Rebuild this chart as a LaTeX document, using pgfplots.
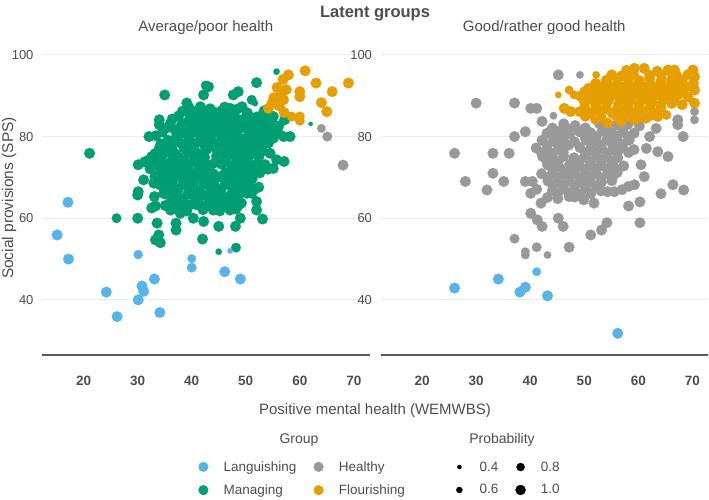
\documentclass[border=0pt]{standalone}
\usepackage{pgfplots}
\pgfplotsset{compat=1.18}
\usepackage{fontspec}
\setmainfont{Liberation Sans}
\definecolor{lang}{HTML}{56B4E9}
\definecolor{mana}{HTML}{009E73}
\definecolor{heal}{HTML}{999999}
\definecolor{flou}{HTML}{E69F00}
\definecolor{txt}{HTML}{4D4D4D}
\definecolor{gridc}{HTML}{EBEBEB}
\definecolor{axc}{HTML}{595959}
\pgfplotsset{
 panel/.style={scale only axis, width=327.5pt, height=314.4pt, anchor=south west,
  xmin=12.3, xmax=72.9, ymin=26.5, ymax=103.5,
  axis line style={draw=none}, tick style={draw=none}, major tick length=0pt,
  xtick={20,30,...,70}, ytick={40,60,80,100},
  ymajorgrids, grid style={gridc, line width=0.9pt},
  /pgf/number format/assume math mode=true,
  xticklabel style={font=\fontsize{13.5}{14}\selectfont\bfseries, text=txt, yshift=-18pt},
  yticklabel style={font=\fontsize{13}{14}\selectfont, text=txt, xshift=-5pt},
  extra description/.code={\draw[axc, line width=2.2pt] (0,0) -- (1,0);},
  legend columns=2,
 },
 dots/.style={forget plot, scatter, only marks, mark=*, scatter/use mapped color={draw=#1, fill=#1, line width=0.1pt},
  visualization depends on={\thisrow{p} \as \pp},
  scatter/@pre marker code/.append style={/tikz/mark size=5.4*\pp}},
}
\begin{document}
\begin{tikzpicture}
\path[use as bounding box] (0pt,0pt) rectangle (709pt,499pt);
\begin{axis}[panel, at={(42pt,144pt)},
 legend image code/.code={\path (0pt,0pt) (26pt,0pt); \draw[#1] plot coordinates {(8pt,0pt)};},
 legend style={at={(0.4672,-0.3928)}, anchor=west, draw=none, fill=none, inner sep=0pt,
  font=\fontsize{13.5}{14}\selectfont, text=txt, row sep=8pt,
  /tikz/every even column/.append style={column sep=12pt}},
 legend cell align=left]
\addplot[dots=mana] table {
x y p
21.1 75.9 1
26.1 60.0 0.9
30.0 60.0 1
35.0 90.2 1
43.1 92.2 1
42.2 90.2 1
42.6 92.5 0.9
34.0 84.1 1
34.0 82.9 1
32.1 80.0 1
34.0 77.1 1
30.1 73.1 1
32.1 74.3 1
31.1 69.4 1
33.0 68.6 1
30.1 66.5 1
30.0 65.7 1
33.1 65.3 1
32.6 62.5 1
33.3 63.0 1
33.6 58.8 1
33.9 55.9 1
33.3 54.7 1
34.2 54.0 1
37.1 57.1 1
37.1 58.8 1
36.1 62.0 1
37.9 61.2 1
40.3 60.0 1
42.2 59.2 1
42.0 54.9 1
45.0 51.8 0.6
48.2 52.8 0.9
45.0 58.0 1
48.1 58.0 1
49.0 60.0 1
53.1 59.8 1
52.0 62.0 1
52.0 64.1 1
50.2 66.1 1
47.1 62.0 1
47.1 64.1 1
44.0 63.3 1
44.0 62.0 1
39.7 63.3 1
40.9 63.3 1
42.2 65.7 1
34.8 66.1 1
52.0 93.2 1
48.6 91.0 1
47.7 90.2 1
39.1 88.2 1
51.1 89.0 0.9
51.7 88.2 0.6
42.2 86.1 1
44.0 86.1 1
47.1 86.9 1
47.1 85.3 1
49.3 87.3 1
52.6 84.9 1
54.8 82.4 1
37.3 80.4 1
39.4 82.4 1
53.9 80.0 1
55.1 79.6 1
54.5 75.9 1
55.7 74.3 1
55.7 95.9 0.6
62.0 83.1 0.4
56.0 80.8 1
57.0 80.0 1
58.2 80.0 1
57.2 84.1 1
55.1 84.9 1
57.1 73.9 1
55.1 72.2 1
52.9 71.8 1
51.1 66.1 1
40.7 86.1 1
38.9 83.3 1
37.2 80.0 1
38.3 86.2 1
40.2 85.7 1
45.6 86.4 1
50.3 85.8 1
53.4 86.3 1
36.4 84.3 1
40.8 84.1 1
42.9 83.8 1
44.8 84.4 1
46.3 83.6 1
48.5 84.2 1
50.8 83.7 1
53.6 83.9 1
35.3 82.1 1
36.9 81.7 1
41.2 82.3 1
43.5 81.8 1
45.2 82.4 1
47.6 81.9 1
49.7 82.2 1
51.5 81.6 1
53.1 82.1 1
56.1 82.6 1
33.4 80.2 1
39.5 79.8 1
41.6 80.3 1
43.2 79.7 1
45.5 80.1 1
47.2 80.4 1
49.0 79.6 1
50.8 80.2 1
52.3 79.9 1
34.3 78.2 1
36.2 77.8 1
38.1 78.3 1
40.4 77.9 1
42.3 78.1 1
44.1 77.6 1
46.4 78.2 1
48.1 77.8 1
50.2 78.4 1
52.1 77.7 1
54.2 78.4 1
33.2 75.8 1
35.4 76.2 1
37.1 75.7 1
39.3 76.1 1
41.2 75.9 1
45.3 75.8 1
47.2 76.2 1
49.4 75.6 1
51.3 76.1 1
53.1 76.4 1
31.3 73.8 1
34.2 74.1 1
36.1 73.7 1
38.3 74.2 1
40.2 73.9 1
42.1 74.3 1
44.3 73.6 1
46.1 74.1 1
48.3 73.8 1
50.1 74.2 1
52.4 73.7 1
32.3 72.1 1
35.1 71.8 1
37.2 72.3 1
39.1 71.7 1
41.3 72.2 1
43.2 71.9 1
47.3 71.8 1
49.2 72.1 1
51.1 71.6 1
54.1 72.0 1
33.2 70.2 1
35.3 69.8 1
37.1 70.3 1
39.4 69.7 1
41.2 70.1 1
43.1 69.8 1
45.3 70.2 1
47.2 69.9 1
49.1 70.3 1
51.2 69.7 1
34.1 68.2 1
36.3 67.8 1
38.2 68.1 1
40.1 67.7 1
42.3 68.3 1
44.2 67.8 1
46.1 68.2 1
48.3 67.9 1
50.2 68.1 1
52.4 67.6 1
35.2 65.9 1
37.1 66.2 1
39.2 65.8 1
41.1 66.3 1
43.3 65.7 1
45.2 66.1 1
47.3 65.8 1
49.1 66.2 1
36.2 64.1 1
38.1 63.8 1
41.1 64.2 1
43.2 63.9 1
46.1 64.3 1
49.2 63.7 1
37.3 62.2 1
39.1 61.8 1
42.1 62.1 1
45.2 61.8 1
48.2 62.3 1
44.6 75.2 1
46.2 71.0 1
42.8 76.9 1
48.7 69.0 1
40.6 71.0 1
38.6 73.0 1
50.6 73.0 1
44.2 69.2 1
39.5 87.1 1
41.6 87.3 1
43.4 86.8 1
46.1 87.2 1
48.4 86.7 1
37.6 85.1 1
39.7 84.8 1
41.8 85.3 1
43.8 84.9 1
45.9 85.2 1
48.0 84.7 1
50.1 85.1 1
52.0 84.8 1
54.4 85.2 1
36.0 83.1 1
38.1 82.8 1
40.1 83.2 1
42.0 82.9 1
44.1 83.1 1
46.0 82.8 1
48.1 83.2 1
50.0 82.9 1
52.1 83.1 1
55.1 82.9 1
34.6 81.1 1
38.4 80.9 1
40.5 81.2 1
42.6 80.8 1
44.4 81.1 1
46.6 80.9 1
48.4 81.2 1
50.6 80.8 1
52.6 81.1 1
54.4 80.9 1
35.6 79.1 1
37.5 78.9 1
39.6 79.2 1
41.4 78.8 1
43.6 79.1 1
45.4 78.9 1
47.6 79.2 1
49.4 78.8 1
51.6 79.1 1
53.4 78.9 1
34.6 77.1 1
36.4 76.9 1
38.6 77.2 1
40.4 76.8 1
44.6 76.9 1
46.4 77.2 1
48.6 76.8 1
50.4 77.1 1
52.6 76.9 1
32.6 75.1 1
34.4 74.9 1
36.6 75.2 1
38.4 74.8 1
40.6 75.1 1
42.4 74.9 1
46.6 75.1 1
48.4 74.8 1
50.6 75.2 1
52.4 74.9 1
33.6 73.1 1
35.4 72.9 1
37.6 73.2 1
39.4 72.8 1
41.6 73.1 1
43.4 72.9 1
45.6 73.2 1
47.4 72.8 1
49.6 73.1 1
51.4 72.9 1
53.6 73.1 1
34.1 71.1 1
36.0 70.9 1
38.1 71.2 1
40.0 70.8 1
42.1 71.1 1
44.0 70.9 1
48.1 71.1 1
50.0 70.9 1
52.6 71.1 1
34.6 69.1 1
36.4 68.9 1
38.6 69.2 1
40.4 68.8 1
42.6 69.1 1
46.6 69.1 1
50.6 68.9 1
35.6 67.1 1
37.4 66.9 1
39.6 67.2 1
41.4 66.8 1
43.6 67.1 1
45.4 66.9 1
47.6 67.2 1
49.4 66.8 1
51.6 67.1 1
36.6 65.1 1
38.4 64.9 1
40.6 65.1 1
44.6 64.9 1
46.6 65.1 1
48.4 64.9 1
35.1 63.1 1
37.6 62.9 1
42.6 63.1 1
45.6 63.0 1
48.6 63.1 1
};
\addplot[dots=lang] table {
x y p
17.1 63.9 1
15.1 55.9 1
17.2 50.0 1
24.2 41.9 1
26.2 35.9 1
30.1 51.1 0.85
30.1 40.0 1
30.8 43.4 1
31.1 42.1 1
33.1 45.1 1
34.1 36.9 1
40.0 50.1 0.8
40.0 47.9 0.9
46.1 46.9 1
47.1 52.0 0.5
49.0 45.1 1
};
\addplot[dots=heal] table {
x y p
64.0 82.0 0.8
65.1 80.0 0.9
68.0 73.0 1
};
\addplot[dots=flou] table {
x y p
61.0 96.1 1
57.9 95.1 1
56.9 94.0 1
55.8 92.0 1
56.5 90.5 1
55.2 89.5 1
57.0 89.0 1
54.8 88.0 1
56.2 87.5 1
54.2 86.9 1
63.0 93.1 1
60.0 91.0 1
60.0 89.8 1
66.0 91.0 1
69.0 93.1 1
64.0 88.3 1
65.0 86.1 1
57.1 85.9 1
58.5 84.9 0.9
60.0 84.9 0.9
60.0 83.9 0.9
57.5 91.5 1
};
\addlegendimage{only marks, mark=*, color=lang, mark size=4.8pt}
\addlegendentry{Languishing}
\addlegendimage{only marks, mark=*, color=heal, mark size=4.8pt}
\addlegendentry{Healthy}
\addlegendimage{only marks, mark=*, color=mana, mark size=4.8pt}
\addlegendentry{Managing}
\addlegendimage{only marks, mark=*, color=flou, mark size=4.8pt}
\addlegendentry{Flourishing}
\end{axis}
\begin{axis}[panel, at={(380.5pt,144pt)}, yticklabel={},
 legend image code/.code={\path (0pt,0pt) (26pt,0pt); \draw[#1] plot coordinates {(8pt,0pt)};},
 legend style={at={(0.2153,-0.3928)}, anchor=west, draw=none, fill=none, inner sep=0pt,
  font=\fontsize{13.5}{14}\selectfont, text=txt, row sep=8pt,
  /tikz/every even column/.append style={column sep=12pt}},
 legend cell align=left]
\addplot[dots=heal] table {
x y p
45.2 95.1 1
49.2 95.1 0.7
30.0 88.2 1
37.1 88.2 1
40.1 86.9 1
41.2 86.9 1
42.2 83.7 1
44.3 85.1 0.7
37.1 80.0 1
39.1 81.2 1
26.0 75.9 1
33.1 75.9 1
36.1 75.9 1
28.0 69.0 1
33.1 71.0 1
35.1 69.0 1
32.0 66.9 1
39.1 69.0 1
40.4 69.0 1
40.1 66.1 1
42.0 63.7 1
40.1 61.2 1
41.3 59.6 1
42.2 58.0 1
45.2 60.0 1
46.1 58.0 1
37.1 55.0 0.9
39.1 51.8 0.8
39.1 51.0 0.8
41.2 52.9 0.9
43.2 51.0 0.7
47.2 52.9 1
51.2 55.9 1
53.2 57.1 1
54.2 58.9 1
60.3 58.9 1
58.2 63.0 1
60.3 64.0 1
64.2 66.0 1
66.4 68.2 1
68.4 66.9 1
58.2 67.8 1
59.3 68.2 1
61.1 70.2 1
60.5 73.1 1
61.5 77.1 1
63.6 76.3 1
65.5 75.1 1
62.1 80.0 1
63.3 82.0 1
67.3 84.1 1
67.3 82.9 1
68.3 80.0 1
70.4 86.1 0.8
70.4 84.1 0.8
55.6 66.5 1
54.3 66.5 1
51.8 63.7 1
49.9 64.5 1
47.2 65.3 1
46.2 83.1 1
48.3 82.7 1
52.8 83.2 1
55.9 82.8 1
58.1 83.0 1
60.2 82.6 1
43.1 80.8 1
45.2 81.3 1
47.3 80.7 1
49.1 81.2 1
51.2 80.9 1
53.3 81.4 1
55.1 80.7 1
57.2 81.1 1
59.2 80.8 1
42.2 79.1 1
44.3 78.8 1
46.1 79.3 1
48.2 78.7 1
50.3 79.2 1
52.1 78.9 1
54.2 79.3 1
56.1 78.8 1
58.3 79.1 1
41.1 77.2 1
43.2 76.8 1
45.3 77.1 1
49.2 77.3 1
51.1 76.8 1
53.2 77.2 1
55.3 76.9 1
57.1 77.3 1
59.2 76.8 1
42.3 75.1 1
44.1 74.7 1
46.2 75.2 1
48.1 74.8 1
50.2 75.3 1
52.3 74.9 1
54.1 75.2 1
56.2 74.8 1
43.2 73.1 1
45.1 72.8 1
47.3 73.2 1
49.1 72.7 1
51.2 73.1 1
53.1 72.9 1
55.2 73.3 1
57.3 72.8 1
42.1 70.9 1
44.2 71.2 1
46.3 70.8 1
48.1 71.3 1
50.2 70.7 1
52.1 71.1 1
54.3 70.9 1
56.1 71.2 1
43.3 69.1 1
45.2 68.8 1
47.1 69.2 1
49.3 68.7 1
51.1 69.1 1
53.2 68.8 1
55.1 69.2 1
41.2 67.1 1
44.1 66.8 1
46.2 67.2 1
48.1 66.9 1
50.3 67.1 1
53.1 66.7 1
57.0 67.0 1
43.2 65.1 1
45.1 64.8 1
48.2 65.2 1
44.1 82.1 1
47.0 81.9 1
50.2 82.1 1
54.1 81.9 1
57.1 82.2 1
44.2 80.0 1
46.1 79.9 1
50.1 80.1 1
52.2 79.9 1
56.1 80.1 1
58.1 79.9 1
43.1 78.0 1
45.2 78.1 1
47.1 77.9 1
51.2 78.1 1
53.1 77.9 1
55.2 78.0 1
57.1 78.1 1
42.1 76.0 1
44.2 75.9 1
46.1 76.1 1
50.2 75.9 1
52.1 76.1 1
54.2 75.9 1
56.1 76.0 1
58.2 76.1 1
43.1 74.0 1
45.2 73.9 1
49.2 74.1 1
51.1 73.9 1
53.2 74.1 1
55.1 74.0 1
44.1 72.0 1
46.2 71.9 1
48.1 72.1 1
50.2 72.0 1
52.1 71.9 1
54.2 72.1 1
56.1 72.0 1
43.2 70.0 1
45.1 70.1 1
47.2 69.9 1
49.1 70.0 1
51.2 70.1 1
53.1 69.9 1
55.2 70.0 1
44.2 68.0 1
46.1 67.9 1
48.2 68.1 1
50.1 68.0 1
52.2 67.9 1
45.1 66.0 1
47.2 66.1 1
49.1 65.9 1
51.2 66.0 1
};
\addplot[dots=flou] table {
x y p
52.2 95.1 0.7
45.2 90.2 0.6
47.2 91.4 0.8
48.1 90.2 0.8
46.3 86.9 1
47.5 86.1 1
70.4 88.2 1
65.2 85.3 0.9
57.8 96.2 1
59.3 96.7 1
61.1 96.7 1
63.5 96.0 1
65.5 96.3 1
66.7 96.3 1
70.1 96.3 1
54.1 93.8 1
56.2 94.3 1
58.1 94.1 1
60.2 93.7 1
62.1 94.2 1
64.3 93.8 1
66.2 94.1 1
68.1 93.7 1
70.4 94.7 1
50.8 91.8 1
52.9 92.2 1
54.8 91.7 1
56.8 92.3 1
58.7 91.9 1
60.8 92.2 1
62.7 91.8 1
64.8 92.1 1
66.9 91.7 1
68.8 92.2 1
70.4 91.4 1
49.3 89.9 1
51.2 90.3 1
53.2 89.7 1
55.1 90.2 1
57.3 89.8 1
59.1 90.3 1
61.3 89.7 1
63.2 90.1 1
65.1 89.8 1
67.3 90.2 1
69.2 89.7 1
50.0 88.6 1
52.1 87.8 1
54.1 88.2 1
56.3 87.7 1
58.2 88.3 1
60.1 87.9 1
62.3 88.2 1
64.1 87.7 1
66.2 88.1 1
68.1 87.8 1
49.2 86.1 1
51.3 85.8 1
53.1 86.3 1
55.2 85.7 1
57.1 86.2 1
59.3 85.8 1
61.2 86.1 1
63.1 85.7 1
52.1 84.2 1
54.3 83.3 1
56.8 83.7 1
59.3 84.1 1
61.4 84.5 1
63.6 84.9 1
55.1 95.1 1
57.0 94.9 1
59.1 95.2 1
62.1 95.0 1
64.2 95.1 1
67.1 94.9 1
69.2 95.2 1
52.1 93.0 1
54.2 93.1 1
56.1 92.9 1
58.2 93.0 1
60.1 93.1 1
62.2 92.9 1
64.1 93.0 1
66.2 93.1 1
68.1 92.9 1
70.2 93.0 1
50.1 91.0 1
52.2 91.1 1
54.1 90.9 1
56.2 91.0 1
58.1 91.1 1
60.2 90.9 1
62.1 91.0 1
64.2 91.1 1
66.1 90.9 1
68.2 91.0 1
50.6 89.0 1
52.6 89.1 1
54.5 88.9 1
56.6 89.0 1
58.5 89.1 1
60.6 88.9 1
62.5 89.0 1
64.6 89.1 1
66.5 88.9 1
50.1 87.0 1
52.2 87.1 1
54.1 86.9 1
56.2 87.0 1
58.1 87.1 1
60.2 86.9 1
62.1 87.0 1
64.2 87.1 1
50.2 85.0 1
53.1 84.9 1
56.0 85.0 1
58.1 85.1 1
60.2 85.0 1
62.1 85.1 1
};
\addplot[dots=lang] table {
x y p
26.0 42.9 1
34.1 45.1 1
41.2 46.9 0.8
38.1 41.9 1
39.1 43.1 1
43.2 41.0 1
56.2 31.8 1
};
\addlegendimage{only marks, mark=*, color=black, mark size=2pt}
\addlegendentry{0.4}
\addlegendimage{only marks, mark=*, color=black, mark size=4pt}
\addlegendentry{0.8}
\addlegendimage{only marks, mark=*, color=black, mark size=3pt}
\addlegendentry{0.6}
\addlegendimage{only marks, mark=*, color=black, mark size=5pt}
\addlegendentry{1.0}
\end{axis}
\node[font=\fontsize{16.5}{17}\selectfont\bfseries, text=txt] at (375pt,485pt) {Latent groups};
\node[font=\fontsize{15}{16}\selectfont, text=txt] at (205.75pt,471pt) {Average/poor health};
\node[font=\fontsize{15}{16}\selectfont, text=txt] at (544.25pt,471pt) {Good/rather good health};
\node[font=\fontsize{15}{16}\selectfont, text=txt] at (375pt,88pt) {Positive mental health (WEMWBS)};
\node[font=\fontsize{15.5}{16}\selectfont, text=txt, rotate=90] at (9pt,301pt) {Social provisions (SPS)};
\node[font=\fontsize{14}{15}\selectfont, text=txt] at (299pt,59pt) {Group};
\node[font=\fontsize{14}{15}\selectfont, text=txt] at (502pt,59pt) {Probability};
\end{tikzpicture}
\end{document}
